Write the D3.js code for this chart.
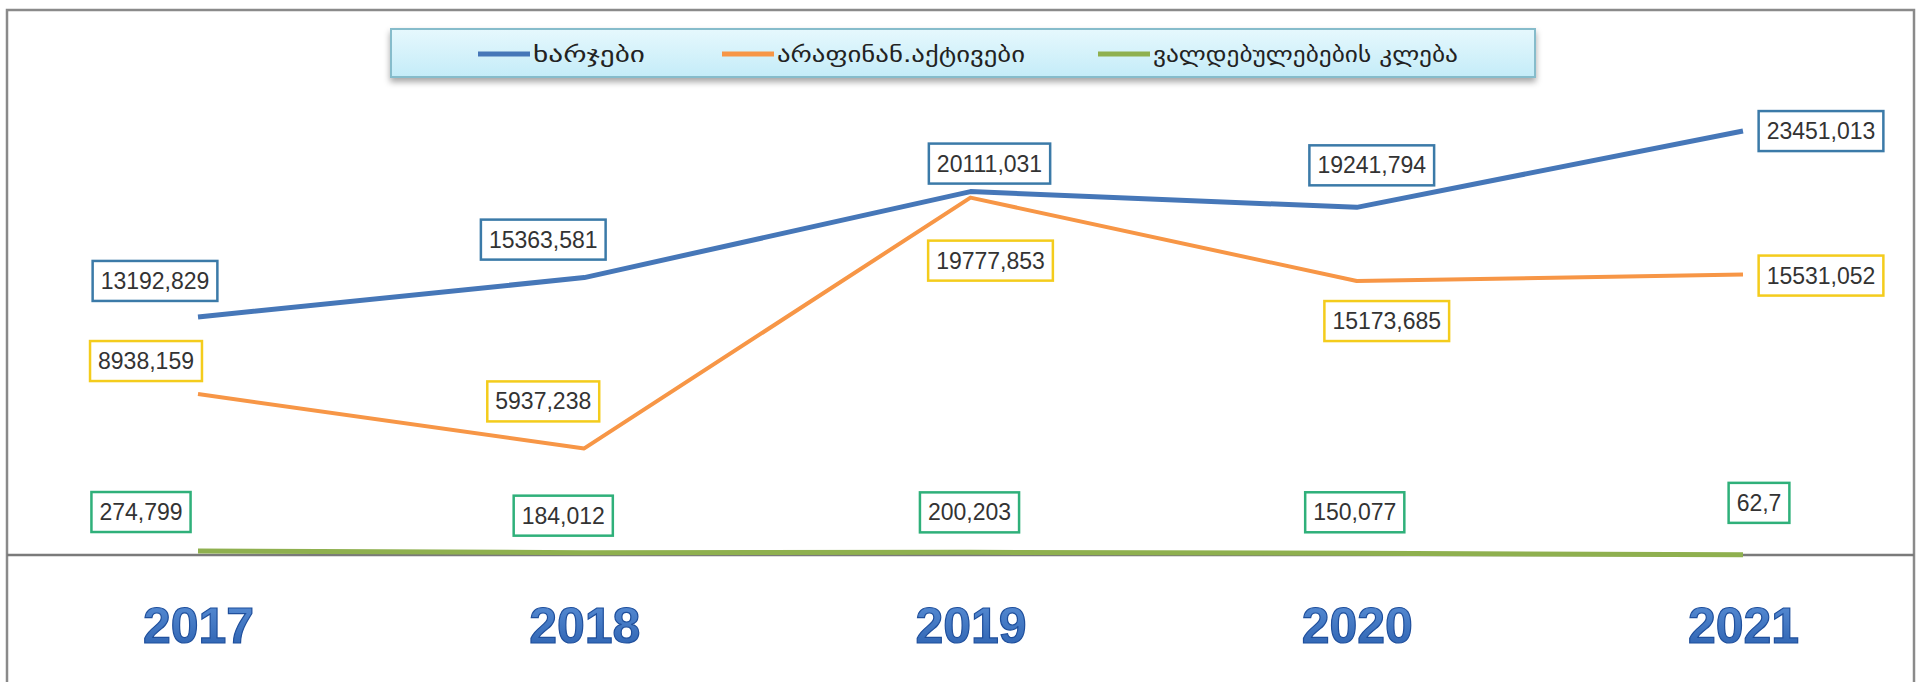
<!DOCTYPE html>
<html>
<head>
<meta charset="utf-8">
<script src="https://cdn.jsdelivr.net/npm/d3@7"></script>
<style>
  body { margin: 0; background: #fff; }
  svg { display: block; }
</style>
</head>
<body>
<div id="chart"></div>
<script>
// chart data
var years = ["2017", "2018", "2019", "2020", "2021"];
var seriesNames = ["ხარჯები", "არაფინან.აქტივები", "ვალდებულებების კლება"];
var expenses = [13192.829, 15363.581, 20111.031, 19241.794, 23451.013];
var nonFinAssets = [8938.159, 5937.238, 19777.853, 15173.685, 15531.052];
var liabilities = [274.799, 184.012, 200.203, 150.077, 62.7];

var svgWidth = 1921;
var svgHeight = 682;

var svg = d3.select("#chart")
  .append("svg")
  .attr("width", svgWidth)
  .attr("height", svgHeight);

var defs = svg.append("defs");

var legendGrad = defs.append("linearGradient")
  .attr("id", "legendGrad")
  .attr("x1", 0).attr("y1", 0).attr("x2", 0).attr("y2", 1);
legendGrad.append("stop").attr("offset", "0%").attr("stop-color", "#e6f8fd");
legendGrad.append("stop").attr("offset", "100%").attr("stop-color", "#c4ecf8");

var shadow = defs.append("filter").attr("id", "shadow")
  .attr("x", "-5%").attr("y", "-30%").attr("width", "110%").attr("height", "180%");
shadow.append("feDropShadow")
  .attr("dx", 0).attr("dy", 4).attr("stdDeviation", 3)
  .attr("flood-color", "#000").attr("flood-opacity", 0.35);

var yearGrad = defs.append("linearGradient")
  .attr("id", "yearGrad")
  .attr("x1", 0).attr("y1", 0).attr("x2", 0).attr("y2", 1);
yearGrad.append("stop").attr("offset", "0%").attr("stop-color", "#5a8fd6");
yearGrad.append("stop").attr("offset", "100%").attr("stop-color", "#2a5fae");

// outer frame
svg.append("rect")
  .attr("x", 7).attr("y", 10)
  .attr("width", 1907).attr("height", 700)
  .attr("fill", "#fff")
  .attr("stroke", "#8a8a8a")
  .attr("stroke-width", 2.5);

// scales
var x = d3.scalePoint()
  .domain(years)
  .range([198, 1743]);

var y = d3.scaleLinear()
  .domain([0, 25000])
  .range([556, 103]);

// baseline separating plot and years
svg.append("line")
  .attr("x1", 7).attr("x2", 1914)
  .attr("y1", 555).attr("y2", 555)
  .attr("stroke", "#7a7a7a")
  .attr("stroke-width", 2.5);

// year labels via bottom axis
var xAxis = d3.axisBottom(x).tickSize(0).tickPadding(0);
var axisG = svg.append("g")
  .attr("transform", "translate(0, 643)")
  .call(xAxis);
axisG.select(".domain").remove();
axisG.selectAll("text")
  .attr("dy", 0)
  .attr("font-family", "Liberation Sans, Arial, sans-serif")
  .attr("font-weight", "bold")
  .attr("font-size", "50px")
  .attr("fill", "url(#yearGrad)")
  .attr("stroke", "#1f4f9c")
  .attr("stroke-width", 1.2);

var series = [
  { name: seriesNames[0], values: expenses, color: "#4677b8", width: 5, box: "#3b7aa8",
    offs: [[-43, -36], [-41, -38], [19, -28], [15, -42], [78, 0]] },
  { name: seriesNames[1], values: nonFinAssets, color: "#f79646", width: 4, box: "#f4cc1c",
    offs: [[-52, -33], [-41, -47], [20, 63], [30, 40], [78, 1]] },
  { name: seriesNames[2], values: liabilities, color: "#8fb04f", width: 5, box: "#2fb07a",
    offs: [[-57, -39], [-21, -37], [-1, -40], [-2, -41], [16, -52]] }
];

var line = d3.line()
  .x(function(d, i) { return x(years[i]); })
  .y(function(d) { return y(d); });

series.forEach(function(s) {
  svg.append("path")
    .datum(s.values)
    .attr("d", line)
    .attr("fill", "none")
    .attr("stroke", s.color)
    .attr("stroke-width", s.width)
    .attr("stroke-linejoin", "round");
});

// data labels
function fmt(v) { return String(v).replace(".", ","); }

series.forEach(function(s) {
  s.values.forEach(function(v, i) {
    var cx = x(years[i]) + s.offs[i][0];
    var cy = y(v) + s.offs[i][1];
    var g = svg.append("g").attr("transform", "translate(" + cx + "," + cy + ")");
    var rect = g.append("rect");
    var t = g.append("text")
      .attr("text-anchor", "middle")
      .attr("dy", "0.35em")
      .attr("font-family", "Liberation Sans, Arial, sans-serif")
      .attr("font-size", "23px")
      .attr("fill", "#333")
      .text(fmt(v));
    var w = t.node().getComputedTextLength() + 16;
    rect.attr("x", -w / 2).attr("y", -20)
      .attr("width", w).attr("height", 40)
      .attr("fill", "#fff")
      .attr("stroke", s.box)
      .attr("stroke-width", 2.5);
  });
});

// legend
var legend = svg.append("g");
legend.append("rect")
  .attr("x", 391).attr("y", 29)
  .attr("width", 1144).attr("height", 48)
  .attr("fill", "url(#legendGrad)")
  .attr("stroke", "#86bccb")
  .attr("stroke-width", 2)
  .attr("filter", "url(#shadow)");

var legendX = [478, 722, 1098];
var legendTextW = [112, 248, 305];
series.forEach(function(s, i) {
  legend.append("line")
    .attr("x1", legendX[i]).attr("x2", legendX[i] + 52)
    .attr("y1", 54).attr("y2", 54)
    .attr("stroke", s.color)
    .attr("stroke-width", 5);
  legend.append("text")
    .attr("x", legendX[i] + 55)
    .attr("y", 54)
    .attr("dy", "0.35em")
    .attr("font-family", "DejaVu Sans Condensed, DejaVu Sans, sans-serif")
    .attr("font-size", "22px")
    .attr("fill", "#222")
    .attr("textLength", legendTextW[i])
    .attr("lengthAdjust", "spacingAndGlyphs")
    .text(s.name);
});
</script>
</body>
</html>
